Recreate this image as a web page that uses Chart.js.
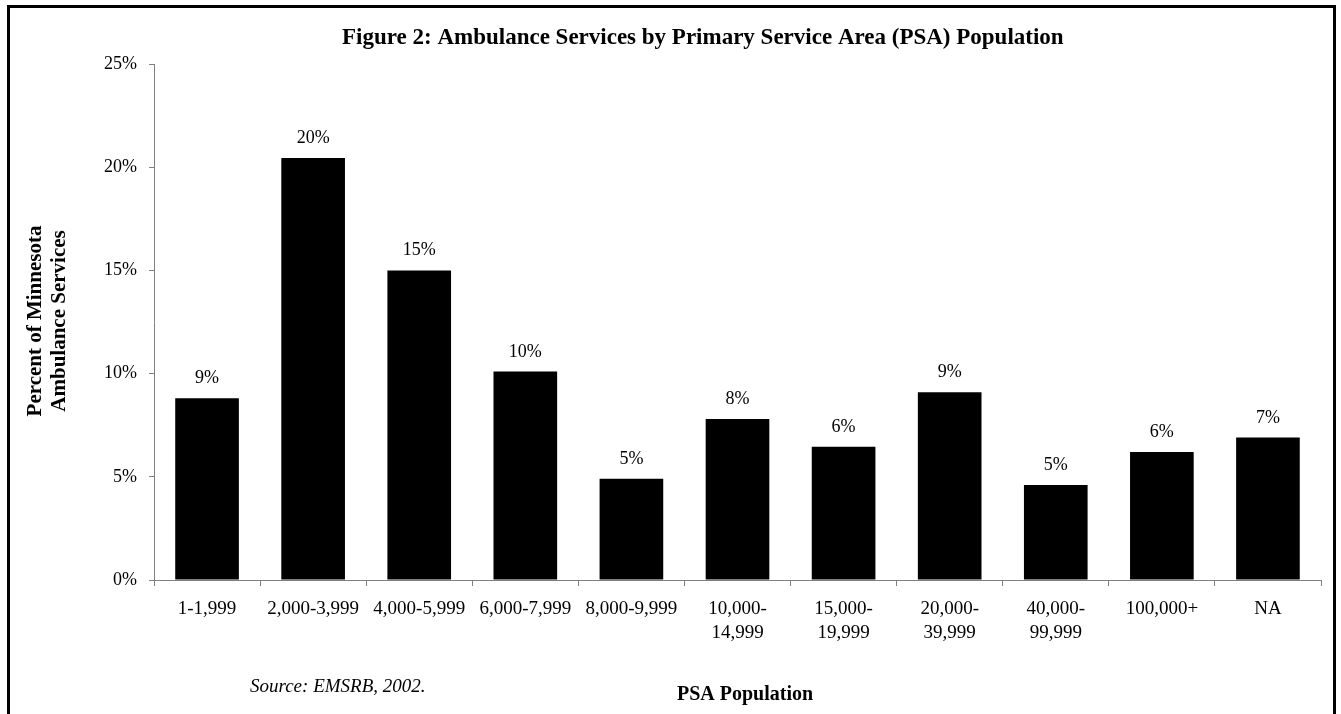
<!DOCTYPE html>
<html lang="en">
<head>
  <meta charset="UTF-8">
  <title>Figure 2: Ambulance Services by PSA Population</title>
  <script src="https://cdn.jsdelivr.net/npm/chart.js"></script>
  <style>
    body { margin: 0; background: #fff; overflow: hidden; }
    #chart_box { position: absolute; left: 0; top: 0; width: 1341px; height: 714px; }
  </style>
</head>
<body>
  <div id="chart_box">
    <canvas id="myChart" width="1341" height="714"></canvas>
  </div>
  <script>
    // PSA population groups (multi-line labels as arrays)
    const psaGroups = [
      '1-1,999', '2,000-3,999', '4,000-5,999', '6,000-7,999', '8,000-9,999',
      ['10,000-', '14,999'], ['15,000-', '19,999'], ['20,000-', '39,999'],
      ['40,000-', '99,999'], '100,000+', 'NA'
    ];
    // percent of Minnesota ambulance services in each group
    const pctServices = [8.8, 20.45, 15.0, 10.1, 4.9, 7.8, 6.45, 9.1, 4.6, 6.2, 6.9];
    const yTickValues = [0, 5, 10, 15, 20, 25];

    const serif = "'Liberation Serif', 'Times New Roman', serif";

    // frame, titles, source note and the value above each bar
    const textPlugin = {
      id: 'figureText',
      afterDraw(chart) {
        const c = chart.ctx;
        c.save();
        c.strokeStyle = '#000';
        c.lineWidth = 3;
        c.beginPath();
        c.moveTo(8.5, 720);
        c.lineTo(8.5, 6.5);
        c.lineTo(1334.5, 6.5);
        c.lineTo(1334.5, 720);
        c.stroke();

        c.fillStyle = '#000';
        c.textBaseline = 'alphabetic';

        c.font = 'bold 23px ' + serif;
        c.textAlign = 'left';
        c.fillText('Figure 2: Ambulance Services by Primary Service Area (PSA) Population', 342, 44);

        c.font = 'italic 19px ' + serif;
        c.fillText('Source: EMSRB, 2002.', 250, 692);

        c.font = 'bold 20px ' + serif;
        c.textAlign = 'center';
        c.fillText('PSA Population', 745, 700);

        // y axis title, rotated
        c.save();
        c.translate(0, 321);
        c.rotate(-Math.PI / 2);
        c.font = 'bold 21px ' + serif;
        c.fillText('Percent of Minnesota', 0, 41);
        c.fillText('Ambulance Services', 0, 65);
        c.restore();

        // bar value labels
        c.font = '18px ' + serif;
        const meta = chart.getDatasetMeta(0);
        meta.data.forEach((bar, i) => {
          c.fillText(Math.round(pctServices[i]) + '%', bar.x, bar.y - 15);
        });
        c.restore();
      }
    };

    const ctx = document.getElementById('myChart').getContext('2d');
    const chart = new Chart(ctx, {
      type: 'bar',
      data: {
        labels: psaGroups,
        datasets: [{
          data: pctServices,
          backgroundColor: '#000',
          borderWidth: 0,
          categoryPercentage: 0.6,
          barPercentage: 1.0
        }]
      },
      options: {
        responsive: false,
        animation: false,
        layout: { padding: { left: 0, top: 64, right: 20, bottom: 0 } },
        plugins: {
          legend: { display: false },
          tooltip: { enabled: false },
          title: { display: false }
        },
        scales: {
          x: {
            offset: true,
            grid: {
              offset: true,
              drawOnChartArea: false,
              drawTicks: true,
              tickLength: 6,
              color: '#808080'
            },
            border: { display: true, color: '#808080', width: 1 },
            ticks: {
              color: '#000',
              font: { family: serif, size: 19, lineHeight: 1.25 },
              padding: 11,
              maxRotation: 0,
              minRotation: 0,
              autoSkip: false
            },
            afterFit(scale) { scale.height = 134; }
          },
          y: {
            min: 0,
            max: 25,
            afterBuildTicks(scale) {
              scale.ticks = yTickValues.map(v => ({ value: v }));
            },
            grid: {
              drawOnChartArea: false,
              drawTicks: true,
              tickLength: 5,
              color: '#808080'
            },
            border: { display: true, color: '#808080', width: 1 },
            ticks: {
              color: '#000',
              font: { family: serif, size: 18 },
              padding: 12,
              callback: v => v + '%'
            },
            afterFit(scale) { scale.width = 154; }
          }
        }
      },
      plugins: [textPlugin]
    });
  </script>
</body>
</html>
